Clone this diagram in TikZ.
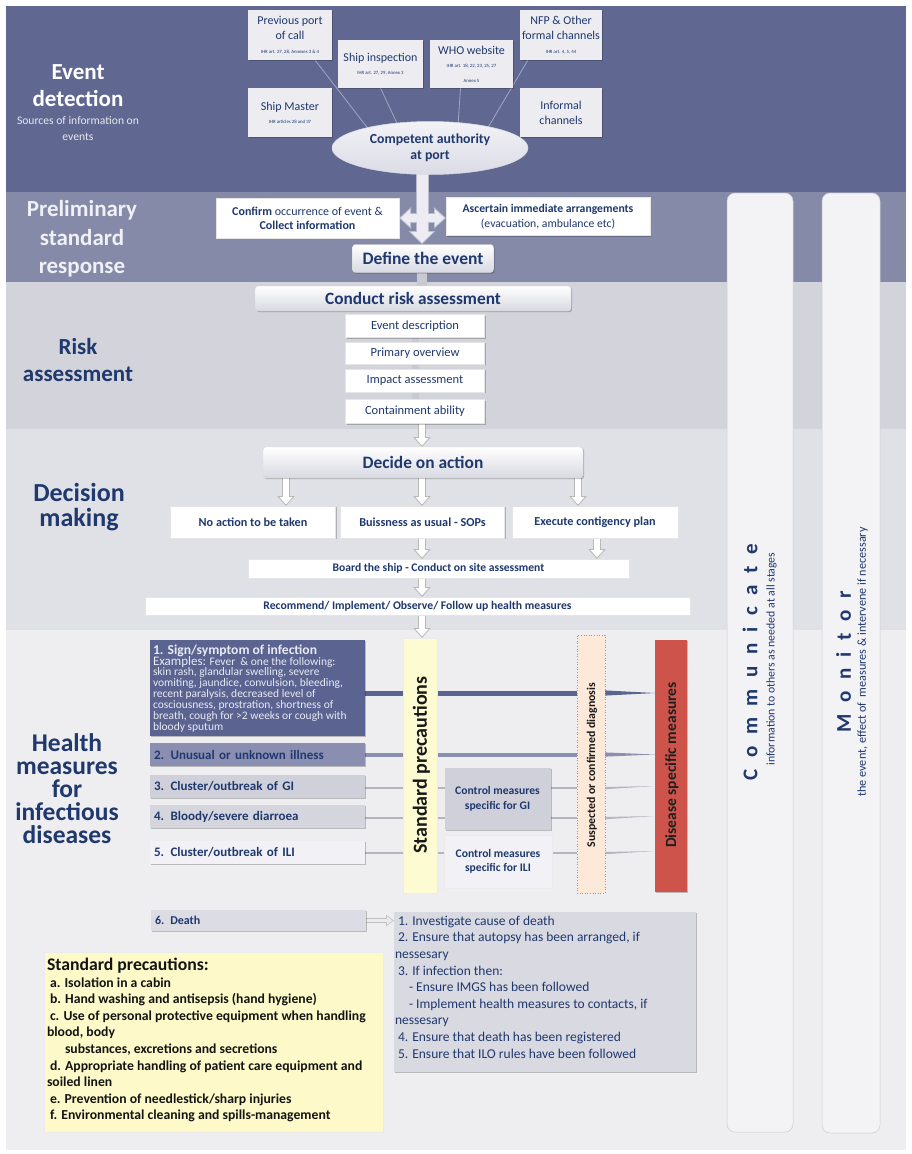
\documentclass[tikz,border=0pt]{standalone}
\usepackage{fontspec}
\setmainfont{Carlito}
\usetikzlibrary{arrows.meta,shapes.geometric,calc,shadows}
\pgfdeclarelayer{bg}
\pgfdeclarelayer{mid}
\pgfsetlayers{bg,mid,main}
\definecolor{navy}{RGB}{31,56,110}
\definecolor{rowtext}{RGB}{232,234,244}
\definecolor{premtext}{RGB}{240,240,246}
\definecolor{bandA}{RGB}{96,104,145}
\definecolor{bandB}{RGB}{133,138,168}
\definecolor{bandC}{RGB}{210,211,219}
\definecolor{bandD}{RGB}{224,225,230}
\definecolor{bandE}{RGB}{238,238,240}
\definecolor{srcfill}{RGB}{236,236,241}
\definecolor{lineblue}{RGB}{160,166,196}
\definecolor{arrowout}{RGB}{185,188,207}
\definecolor{arrowin}{RGB}{236,236,242}
\definecolor{gbot}{RGB}{216,217,226}
\definecolor{ellTop}{RGB}{242,242,247}
\definecolor{ellBot}{RGB}{218,219,229}
\definecolor{row1}{RGB}{91,99,145}
\definecolor{row2}{RGB}{138,143,178}
\definecolor{row3}{RGB}{207,208,217}
\definecolor{row4}{RGB}{212,213,221}
\definecolor{row5}{RGB}{242,242,246}
\definecolor{thinline}{RGB}{180,181,194}
\definecolor{stdyellow}{RGB}{253,251,210}
\definecolor{peach}{RGB}{253,233,217}
\definecolor{redbox}{RGB}{206,84,75}
\definecolor{colfill}{RGB}{243,243,246}
\definecolor{deathfill}{RGB}{220,221,228}
\definecolor{dactfill}{RGB}{216,217,225}
\definecolor{spfill}{RGB}{253,249,200}
\definecolor{barcol}{RGB}{200,201,211}
\newcommand\fsz[2]{\fontsize{#1}{#2}\selectfont}
\newcommand\lgap{\hspace{11.5pt}}
\newcommand\hollow[2]{\draw[hout] #1 -- #2; \draw[hin] #1 -- #2;}
\newcommand\shollow[2]{\draw[hsout] #1 -- #2; \draw[hsin] #1 -- #2;}
\begin{document}
\begin{tikzpicture}[x=1pt,y=-1pt,
  every node/.style={inner sep=0pt, outer sep=0pt},
  sh/.style={drop shadow={shadow xshift=1.2pt, shadow yshift=-1.2pt, opacity=0.22, fill=black}},
  lab/.style={font=\bfseries\fsz{23}{27}, align=center, text=navy},
  src/.style={fill=srcfill, text=navy, align=center, font=\fsz{12}{15}, sh},
  wbox/.style={fill=white, text=navy, align=center, draw=black!10, line width=.4pt, sh},
  gbox/.style={rounded corners=3pt, top color=white, bottom color=gbot, draw=black!15, line width=.4pt, text=navy, align=center, sh},
  rowbox/.style={anchor=north west, minimum width=215pt, text width=207pt, inner xsep=4pt, align=left, font=\bfseries\fsz{13}{15}, text=navy, sh},
  srcline/.style={draw=lineblue, line width=.8pt},
  fatout/.style={line width=13pt, draw=arrowout, -{Triangle[width=26pt,length=13.5pt]}},
  fatin/.style={line width=11pt, draw=arrowin, shorten >=1.6pt, -{Triangle[width=22pt,length=11pt]}},
  hfatout/.style={line width=10pt, draw=arrowout, {Triangle[width=21pt,length=12pt]}-{Triangle[width=21pt,length=12pt]}},
  hfatin/.style={line width=8pt, draw=arrowin, shorten >=1.6pt, shorten <=1.6pt, {Triangle[width=17pt,length=9.6pt]}-{Triangle[width=17pt,length=9.6pt]}},
  hout/.style={line width=8pt, draw=black!28, -{Triangle[width=17pt,length=10pt]}},
  hin/.style={line width=6pt, draw=white, shorten >=1.5pt, -{Triangle[width=12.7pt,length=7.5pt]}},
  hsout/.style={line width=5pt, draw=black!25, -{Triangle[width=11pt,length=8pt]}},
  hsin/.style={line width=3.6pt, draw=white!92!black, shorten >=1.25pt, -{Triangle[width=8.3pt,length=6pt]}},
  bar/.style={line width=7pt, draw=barcol},
]
\useasboundingbox (0,0) rectangle (911,1154);
\begin{pgfonlayer}{bg}
\fill[white] (0,0) rectangle (911,1154);
\fill[bandA] (6,6) rectangle (906,192);
\fill[bandB] (6,192) rectangle (906,282);
\fill[bandC] (6,282) rectangle (906,429);
\fill[bandD] (6,429) rectangle (906,630);
\fill[bandE] (6,630) rectangle (906,1150);
\end{pgfonlayer}

% ---------- left labels
\node[lab, text=white] (edl) at (78,86) {Event\\detection};
\node[font=\fsz{11.6}{16}, text=white!85!bandA, align=center] (eds) at (78,129) {Sources of information on\\events};
\node[lab, text=premtext, font=\bfseries\fsz{23}{28.5}] (psr) at (82,239) {Preliminary\\standard\\response};
\node[lab] (ral) at (78,360) {Risk\\assessment};
\node[lab, font=\bfseries\fsz{26}{25}] (dml) at (79,507) {Decision\\making};
\node[lab, font=\bfseries\fsz{25.5}{23}] (hml) at (67,789) {Health\\measures\\for\\infectious\\diseases};

% ---------- event detection
\node[src, minimum width=84pt, minimum height=50pt] (prev) at (290,35) {Previous port\\of call\\[-1pt]\fsz{4.8}{5}IHR art. 27, 28, Annexes 3 \& 4};
\node[src, minimum width=85pt, minimum height=48pt] (insp) at (380.5,64) {Ship inspection\\[-2pt]\fsz{4.8}{5}IHR art. 27, 29, Annex 3};
\node[src, minimum width=83pt, minimum height=48pt] (who) at (471.5,64) {WHO website\\[-2pt]\fsz{4.8}{6}IHR art. 18, 22, 23, 25, 27\\\fsz{4.8}{6}Annex 5};
\node[src, minimum width=82pt, minimum height=50pt] (nfp) at (561,35) {NFP \& Other\\formal channels\\[-1pt]\fsz{4.8}{5}IHR art. 4, 5, 44};
\node[src, minimum width=84pt, minimum height=49pt] (mast) at (290,112.5) {Ship Master\\[-2pt]\fsz{4.8}{5}IHR articles 28 and 37};
\node[src, minimum width=82pt, minimum height=49pt] (inf) at (561,112.5) {Informal\\channels};
\node[ellipse, minimum width=196pt, minimum height=53pt, top color=ellTop, bottom color=ellBot, draw=white!75!bandA, line width=.5pt, text=navy, font=\bfseries\fsz{13.8}{16}, align=center] (ell) at (430,148) {Competent authority\\at port};

% ---------- preliminary
\node[wbox, minimum width=183pt, minimum height=40pt, font=\fsz{12}{14}] (conf) at (307.5,218) {\textbf{Confirm} occurrence of event \&\\\textbf{Collect information}};
\node[wbox, minimum width=204pt, minimum height=38pt, font=\fsz{11.7}{15}] (asc) at (548,216.5) {\textbf{Ascertain immediate arrangements}\\(evacuation, ambulance etc)};
\node[gbox, minimum width=141pt, minimum height=28pt, font=\bfseries\fsz{17.5}{19}] (def) at (423,258.5) {Define the event};

% ---------- risk assessment
\node[gbox, minimum width=316pt, minimum height=25pt, font=\bfseries\fsz{17.3}{19}] (cra) at (413,298.5) {Conduct risk assessment};
\node[wbox, minimum width=139pt, minimum height=23pt, font=\fsz{12.5}{14}] (evd) at (415,326) {Event description};
\node[wbox, minimum width=139pt, minimum height=22pt, font=\fsz{12.5}{14}] (prim) at (415,353) {Primary overview};
\node[wbox, minimum width=139pt, minimum height=23pt, font=\fsz{12.5}{14}] (imp) at (415,380.5) {Impact assessment};
\node[wbox, minimum width=139pt, minimum height=24pt, font=\fsz{12.5}{14}] (cont) at (415,411.5) {Containment ability};

% ---------- decision making
\node[gbox, minimum width=320pt, minimum height=31pt, font=\bfseries\fsz{17.4}{19}] (dec) at (423,462.5) {Decide on action};
\node[wbox, minimum width=165pt, minimum height=32pt, font=\bfseries\fsz{12.2}{14}] (noact) at (253,522) {No action to be taken};
\node[wbox, minimum width=164pt, minimum height=32pt, font=\bfseries\fsz{12.2}{14}] (buis) at (422.5,522) {Buissness as usual - SOPs};
\node[wbox, minimum width=166pt, minimum height=32pt, font=\bfseries\fsz{12.2}{14}] (exec) at (595,522) {Execute contigency plan};
\node[wbox, minimum width=381pt, minimum height=19pt, font=\bfseries\fsz{11.6}{13}] (board) at (438.5,568.5) {Board the ship - Conduct on site assessment};
\node[wbox, minimum width=545pt, minimum height=18pt, font=\bfseries\fsz{11.7}{13}] (recm) at (417.5,606) {Recommend/ Implement/ Observe/ Follow up health measures};

% ---------- health measures
\node[rowbox, fill=row1, minimum height=96pt] (r1) at (150,639.5) {};
\node[anchor=north west, align=left, text=rowtext, font=\fsz{11.5}{9.3}] (r1t) at ($(r1.north west)+(3,5)$) {{\fsz{13.6}{12}\bfseries 1. Sign/symptom of infection}\\[-1pt]
{\fsz{13}{11}Examples:} Fever \ \& one the following:\\[-1pt]
skin rash, glandular swelling, severe\\
vomiting, jaundice, convulsion, bleeding,\\
recent paralysis, decreased level of\\
cosciousness, prostration, shortness of\\
breath, cough for >2 weeks or cough with\\
bloody sputum};
\node[rowbox, fill=row2, minimum height=23pt] (r2) at (150,743) {2. Unusual or unknown illness};
\node[rowbox, fill=row3, minimum height=23pt] (r3) at (150,775) {3. Cluster/outbreak of GI};
\node[rowbox, fill=row4, minimum height=23pt] (r4) at (150,805) {4. Bloody/severe diarroea};
\node[rowbox, fill=row5, minimum height=23pt] (r5) at (150,841) {5. Cluster/outbreak of ILI};

\node[fill=stdyellow, draw=black!8, minimum width=34pt, minimum height=255pt, sh] (stdp) at (420,765.5) {};
\node[rotate=90, font=\bfseries\fsz{20}{22}, text=black!90] (stdpt) at (421.5,765) {Standard precautions};
\node[fill=peach, draw=black!40, dotted, line width=.6pt, minimum width=28pt, minimum height=258pt] (susp) at (591,764) {};
\node[rotate=90, font=\bfseries\fsz{11.8}{14}, text=black!90] (suspt) at (592,765) {Suspected or confirmed diagnosis};
\node[fill=redbox, minimum width=32pt, minimum height=252pt, sh] (dis) at (671,766) {};
\node[rotate=90, font=\bfseries\fsz{15.5}{18}, text=black!88] (dist) at (672,765) {Disease specific measures};
\node[fill=row3, minimum width=106pt, minimum height=62pt, text=navy, font=\bfseries\fsz{11.6}{14.5}, align=center, sh] (gi) at (497.5,799) {Control measures\\specific for GI};
\node[fill=row5, draw=black!8, minimum width=108pt, minimum height=53pt, text=navy, font=\bfseries\fsz{11.6}{14.5}, align=center, sh] (ili) at (498,861.5) {Control measures\\specific for ILI};

\node[rowbox, fill=deathfill, minimum height=21pt, font=\bfseries\fsz{12}{13}] (death) at (151,910) {6. Death};
\node[anchor=north west, fill=dactfill, minimum width=302pt, minimum height=160pt, sh] (dact) at (394,912) {};
\node[anchor=north west, align=left, text=navy, font=\fsz{13.5}{16.6}] (dactt) at ($(dact.north west)+(1,4)$) {\hspace*{3pt}1. Investigate cause of death\\
\hspace*{3pt}2. Ensure that autopsy has been arranged, if\\
nessesary\\
\hspace*{3pt}3. If infection then:\\
\hspace*{14pt}- Ensure IMGS has been followed\\
\hspace*{14pt}- Implement health measures to contacts, if\\
nessesary\\
\hspace*{3pt}4. Ensure that death has been registered\\
\hspace*{3pt}5. Ensure that ILO rules have been followed};

\node[anchor=north west, fill=spfill, draw=black!8, minimum width=339pt, minimum height=180pt, sh] (spbox) at (44,952) {};
\node[anchor=north west, align=left, text=black!92, font=\bfseries\fsz{13.7}{16.6}] (sptext) at ($(spbox.north west)+(3,6)$) {{\fsz{17.7}{17}Standard precautions:}\\[0pt]
\hspace*{3pt}a. Isolation in a cabin\\
\hspace*{3pt}b. Hand washing and antisepsis (hand hygiene)\\
\hspace*{3pt}c. Use of personal protective equipment when handling\\
blood, body\\
\hspace*{18pt}substances, excretions and secretions\\
\hspace*{3pt}d. Appropriate handling of patient care equipment and\\
soiled linen\\
\hspace*{3pt}e. Prevention of needlestick/sharp injuries\\
\hspace*{3pt}f. Environmental cleaning and spills-management};

% ---------- right columns
\node[draw=black!20, fill=colfill, rounded corners=8pt, line width=.5pt, minimum width=66pt, minimum height=939pt] (comm) at (760,662.5) {};
\node[rotate=90, text=navy, font=\bfseries\fsz{21}{24}] (commt) at (750,662) {C\lgap o\lgap m\lgap m\lgap u\lgap n\lgap i\lgap c\lgap a\lgap t\lgap e};
\node[rotate=90, text=navy, font=\fsz{11.8}{13}] (comms) at (771.5,659) {information to others as needed at all stages};
\node[draw=black!20, fill=colfill, rounded corners=8pt, line width=.5pt, minimum width=58pt, minimum height=940pt] (mon) at (851,663) {};
\node[rotate=90, text=navy, font=\bfseries\fsz{21}{24}] (mont) at (843.5,662) {M\lgap o\lgap n\lgap i\lgap t\lgap o\lgap r};
\node[rotate=90, text=navy, font=\fsz{12.2}{13}] (mons) at (862.5,662) {the event, effect of \ measures \& intervene if necessary};

% ---------- connectors
\coordinate (xm) at (422,0);
\coordinate (xn) at (286,0);
\coordinate (xe) at (578,0);
\coordinate (xf) at (597,0);
\coordinate (y1) at (0,693);
\coordinate (y2) at (0,754.5);
\coordinate (y3) at (0,788);
\coordinate (y4) at (0,818);
\coordinate (y5) at (0,853);
\begin{pgfonlayer}{mid}
\draw[srcline] ($(prev.south)+(25,0)$) -- (ell.162);
\draw[srcline] ($(insp.south)+(0,0)$) -- (ell.143);
\draw[srcline] ($(who.south)+(-11,0)$) -- (ell.42);
\draw[srcline] ($(nfp.south)+(-33,0)$) -- (ell.20);
\draw[fatout] (xm |- ell.center) -- (xm |- def.north);
\draw[hfatout] (conf.east) -- (asc.west |- conf.east);
\draw[fatin] (xm |- ell.center) -- (xm |- def.north);
\draw[hfatin] (conf.east) -- (asc.west |- conf.east);
\draw[bar, line width=10pt] (xm |- def.south) -- (xm |- cra.north);
\draw[bar] (evd.south) -- (prim.north);
\draw[bar] (prim.south) -- (imp.north);
\draw[bar] (imp.south) -- (cont.north);
\hollow{(xm |- cont.south)}{(xm |- dec.north)}
\hollow{(xn |- dec.south)}{(xn |- noact.north)}
\hollow{(xm |- dec.south)}{(xm |- buis.north)}
\hollow{(xe |- dec.south)}{(xe |- exec.north)}
\hollow{(xm |- buis.south)}{(xm |- board.north)}
\hollow{(xf |- exec.south)}{(xf |- board.north)}
\hollow{(xm |- board.south)}{(xm |- recm.north)}
\hollow{(xm |- recm.south)}{(xm |- stdp.north)}
% row lines
\draw[line width=5pt, row1] (r1.east |- y1) -- (susp.west |- y1);
\fill[row1] ($(susp.east |- y1)+(0,-2.6)$) -- ($(susp.east |- y1)+(0,2.6)$) -- (dis.west |- y1) -- cycle;
\draw[line width=4pt, row2] (r2.east |- y2) -- (susp.west |- y2);
\fill[row2] ($(susp.east |- y2)+(0,-2.1)$) -- ($(susp.east |- y2)+(0,2.1)$) -- (dis.west |- y2) -- cycle;
\draw[line width=1.8pt, thinline] (r3.east |- y3) -- (susp.west |- y3);
\fill[thinline] ($(susp.east |- y3)+(0,-1)$) -- ($(susp.east |- y3)+(0,1.2)$) -- ($(dis.west |- y3)+(0,-2)$) -- cycle;
\draw[line width=1.8pt, thinline] (r4.east |- y4) -- (susp.west |- y4);
\fill[thinline] ($(susp.east |- y4)+(0,-1)$) -- ($(susp.east |- y4)+(0,1.2)$) -- ($(dis.west |- y4)+(0,-2)$) -- cycle;
\draw[line width=1.8pt, thinline] (r5.east |- y5) -- (susp.west |- y5);
\fill[thinline] ($(susp.east |- y5)+(0,-1)$) -- ($(susp.east |- y5)+(0,1.2)$) -- ($(dis.west |- y5)+(0,-2)$) -- cycle;
\shollow{(death.east)}{(dact.west |- death.east)}
\end{pgfonlayer}
\end{tikzpicture}
\end{document}
